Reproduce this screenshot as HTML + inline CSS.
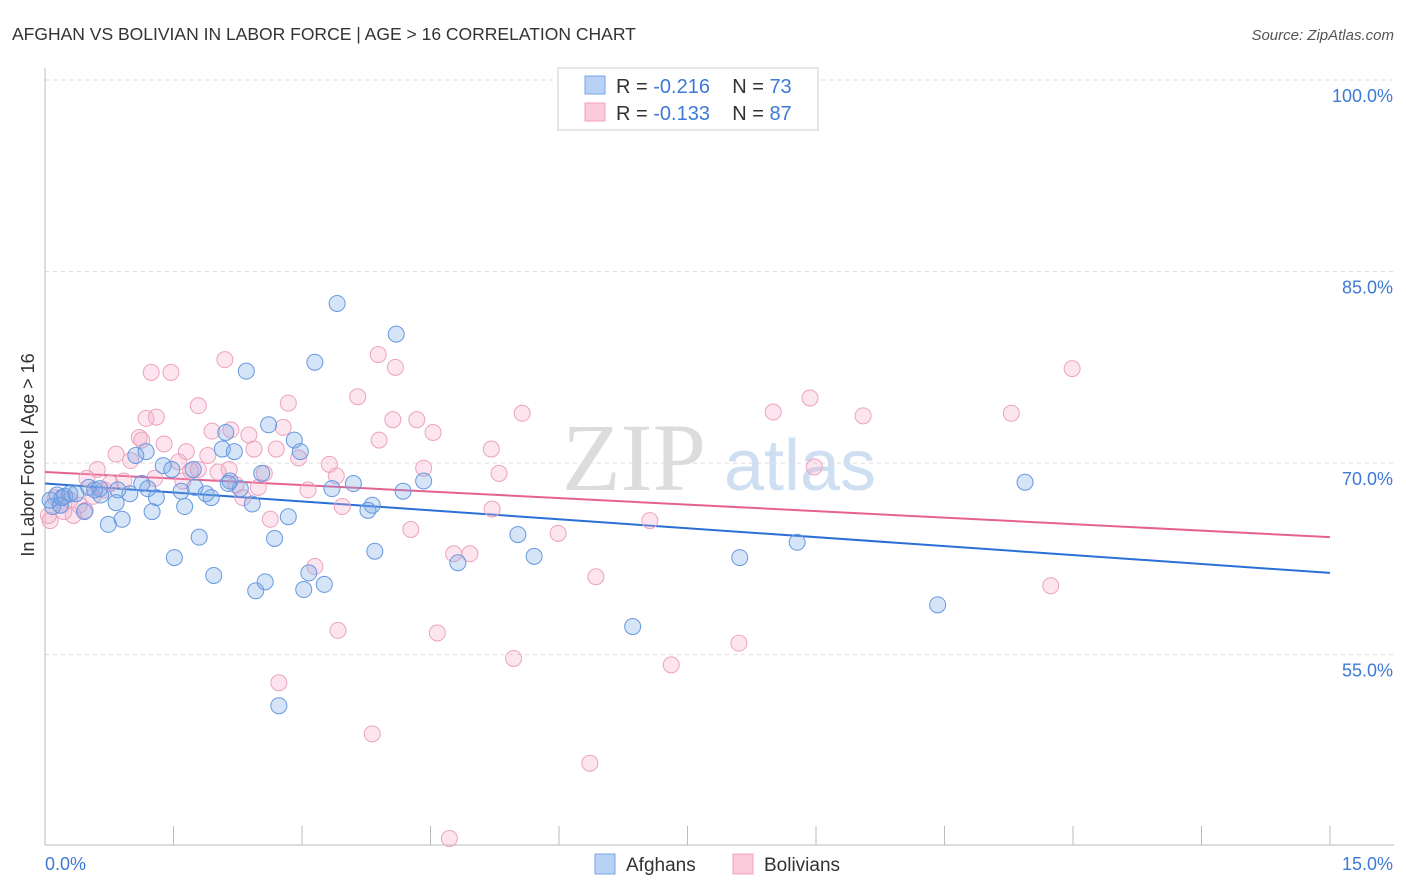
<!DOCTYPE html>
<html><head><meta charset="utf-8">
<style>
body{margin:0;background:#fff;font-family:"Liberation Sans",sans-serif;}
#wrap{position:relative;width:1406px;height:892px;overflow:hidden;}
</style></head>
<body>
<div id="wrap">
<svg id="chart" width="1406" height="892">
<text x="12" y="40" font-size="17.5" fill="#333">AFGHAN VS BOLIVIAN IN LABOR FORCE | AGE &gt; 16 CORRELATION CHART</text>
<text x="1394" y="40" font-size="15" fill="#555" font-style="italic" text-anchor="end">Source: ZipAtlas.com</text>
<text x="634" y="490" font-size="96" fill="#dcdcdc" font-family="Liberation Serif,serif" text-anchor="middle">ZIP</text>
<text x="800" y="490" font-size="72" fill="#cfdff2" text-anchor="middle">atlas</text>
<g id="grid"></g>
<g id="trend"></g>
<g id="pts"></g>
<text transform="translate(34,455) rotate(-90)" font-size="18" fill="#333" text-anchor="middle">In Labor Force | Age &gt; 16</text>
<text x="45" y="870" font-size="18" fill="#3d7ad6">0.0%</text>
<text x="1393" y="870" font-size="18" fill="#3d7ad6" text-anchor="end">15.0%</text>
<g>
<rect x="558" y="68" width="260" height="62" fill="#fff" stroke="#ccc"/>
<rect x="585" y="76" width="20" height="18" fill="#b8d2f5" stroke="#7aa6e6"/>
<rect x="585" y="103" width="20" height="18" fill="#fbcadb" stroke="#f0a0be"/>
<text x="616" y="93" font-size="20" fill="#333">R = <tspan fill="#3d7ad6">-0.216</tspan>&#160;&#160;&#160;&#160;N = <tspan fill="#3d7ad6">73</tspan></text>
<text x="616" y="120" font-size="20" fill="#333">R = <tspan fill="#3d7ad6">-0.133</tspan>&#160;&#160;&#160;&#160;N = <tspan fill="#3d7ad6">87</tspan></text>
</g>
<g>
<rect x="595" y="854" width="20" height="20" fill="#b8d2f5" stroke="#7aa6e6"/>
<text x="626" y="871" font-size="19" fill="#333">Afghans</text>
<rect x="733" y="854" width="20" height="20" fill="#fbcadb" stroke="#f0a0be"/>
<text x="764" y="871" font-size="19" fill="#333">Bolivians</text>
</g>
</svg>
</div>
<script>
const yTicks=[100,85,70,55];
const afX=[3.41,4.10,3.15,2.35,2.61,2.11,2.91,2.98,2.07,2.21,1.06,1.18,1.38,1.48,1.73,2.53,3.60,4.42,3.35,4.18,1.13,0.51,0.14,0.23,0.29,0.36,0.65,0.99,1.30,1.59,1.75,1.88,1.94,2.28,2.16,2.42,3.82,3.77,0.83,1.25,1.63,2.84,0.46,0.90,0.74,0.09,5.52,5.71,4.82,3.85,2.68,1.80,1.51,1.97,2.46,2.57,3.02,3.08,3.26,6.86,8.11,8.78,10.42,11.44,2.73,0.58,0.06,0.18,0.85,2.14,0.64,1.20,0.20];
const afY=[82.5,80.1,77.9,77.2,73.0,72.4,71.8,70.9,71.1,70.9,70.6,70.9,69.8,69.5,69.5,69.2,68.4,68.6,68.0,67.8,68.4,68.1,67.5,67.4,67.6,67.6,67.5,67.6,67.3,67.8,68.1,67.6,67.3,68.0,68.6,66.8,66.7,66.3,66.9,66.2,66.6,65.8,66.2,65.6,65.2,66.6,64.4,62.7,62.2,63.1,64.1,64.2,62.6,61.2,60.0,60.7,60.1,61.4,60.5,57.2,62.6,63.8,58.9,68.5,51.0,67.9,67.1,66.7,67.9,68.4,68.0,68.0,67.3];
const boX=[11.99,8.93,8.50,9.55,11.28,5.57,3.89,4.09,2.10,1.24,1.47,3.65,2.84,1.79,1.18,1.30,4.06,4.34,3.90,4.53,1.95,2.17,2.38,2.78,1.10,1.13,1.39,1.65,0.83,1.00,1.56,1.90,2.44,2.70,2.96,3.32,1.70,2.02,2.15,2.56,3.40,4.42,5.21,5.30,8.98,0.61,0.49,0.76,0.92,1.28,2.49,3.07,3.47,5.22,2.31,2.63,4.27,5.99,7.06,4.77,4.96,3.15,6.43,11.74,3.42,4.58,5.47,8.10,7.31,2.73,3.82,6.36,4.72,0.06,0.04,0.22,0.29,0.40,0.18,0.47,0.56,0.69,0.12,0.33,1.79,1.61,2.23];
const boY=[77.4,75.1,74.0,73.7,73.9,73.9,78.5,77.5,78.1,77.1,77.1,75.2,74.7,74.5,73.5,73.6,73.4,73.4,71.8,72.4,72.5,72.6,72.2,72.8,72.0,71.8,71.5,70.9,70.7,70.2,70.1,70.6,71.1,71.1,70.4,69.9,69.4,69.3,69.5,69.2,69.0,69.6,71.1,69.2,69.7,69.5,68.8,68.4,68.6,68.8,68.1,67.9,66.6,66.4,67.3,65.6,64.8,64.5,65.5,62.9,62.9,61.9,61.1,60.4,56.9,56.7,54.7,55.9,54.2,52.8,48.8,46.5,40.6,65.5,65.9,66.2,67.1,66.7,66.7,66.3,67.4,67.9,67.3,65.9,69.5,68.6,68.3];
const afTrend=[68.4,61.4];
const boTrend=[69.3,64.2];
const NS='http://www.w3.org/2000/svg';
const X=v=>45+v*(1285/15);
const Y=v=>80+(100-v)*12.77;
function mk(t,a,p){const e=document.createElementNS(NS,t);for(const k in a)e.setAttribute(k,a[k]);p.appendChild(e);return e;}
const grid=document.getElementById('grid');
yTicks.forEach(t=>{
 const l=mk('line',{x1:45,x2:1394,y1:Y(t),y2:Y(t),stroke:'#ddd','stroke-dasharray':'4,4'},grid);
 
 
 const tx=mk('text',{x:1393,y:Y(t)+22,'font-size':18,fill:'#3d7ad6','text-anchor':'end'},grid);
 tx.textContent=t.toFixed(1)+'%';
 
 
});
const ax=mk('line',{x1:45,x2:45,y1:68,y2:845,stroke:'#bbb'},grid);


const bx=mk('line',{x1:45,x2:1394,y1:845,y2:845,stroke:'#bbb'},grid);


for(let i=0;i<=10;i++){const tk=mk('line',{x1:X(i*1.5),x2:X(i*1.5),y1:826,y2:845,stroke:'#bbb'},grid);
 
 }
const pts=document.getElementById('pts');
function series(xs,ys,fill,stroke,name){xs.forEach((x,i)=>{
 const c=mk('circle',{cx:X(x),cy:Y(ys[i]),r:8,fill:fill,stroke:stroke,'stroke-width':1},pts);
 
 });}
series(boX,boY,'rgba(246,170,198,0.3)','#eda3be','bolivian-point');
series(afX,afY,'rgba(120,165,230,0.3)','#6699e0','afghan-point');
const tr=document.getElementById('trend');
const l1=mk('line',{x1:X(0),y1:Y(afTrend[0]),x2:X(15),y2:Y(afTrend[1]),stroke:'#2a6fd6','stroke-width':2},tr);


const l2=mk('line',{x1:X(0),y1:Y(boTrend[0]),x2:X(15),y2:Y(boTrend[1]),stroke:'#e5628f','stroke-width':2},tr);


</script>
</body></html>
